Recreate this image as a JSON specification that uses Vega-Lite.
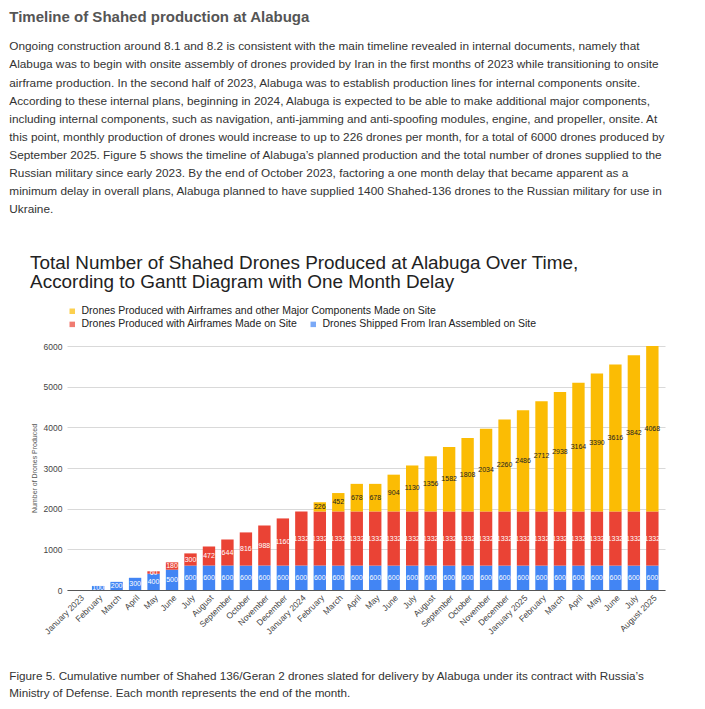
{
  "$schema": "https://vega.github.io/schema/vega-lite/v6.json",
  "background": "white",
  "padding": {"left": 9, "top": 10, "right": 5, "bottom": 0},
  "config": {
    "font": "Liberation Sans",
    "view": {"stroke": null},
    "legend": {"layout": {"top": {"anchor": "start", "direction": "vertical", "margin": 2}}}
  },
  "title": {
    "text": "Timeline of Shahed production at Alabuga",
    "subtitle": [
      "Ongoing construction around 8.1 and 8.2 is consistent with the main timeline revealed in internal documents, namely that",
      "Alabuga was to begin with onsite assembly of drones provided by Iran in the first months of 2023 while transitioning to onsite",
      "airframe production. In the second half of 2023, Alabuga was to establish production lines for internal components onsite.",
      "According to these internal plans, beginning in 2024, Alabuga is expected to be able to make additional major components,",
      "including internal components, such as navigation, anti-jamming and anti-spoofing modules, engine, and propeller, onsite. At",
      "this point, monthly production of drones would increase to up to 226 drones per month, for a total of 6000 drones produced by",
      "September 2025. Figure 5 shows the timeline of Alabuga’s planned production and the total number of drones supplied to the",
      "Russian military since early 2023. By the end of October 2023, factoring a one month delay that became apparent as a",
      "minimum delay in overall plans, Alabuga planned to have supplied 1400 Shahed-136 drones to the Russian military for use in",
      "Ukraine."
    ],
    "anchor": "start",
    "frame": "bounds",
    "font": "Liberation Sans",
    "fontSize": 15,
    "fontWeight": "bold",
    "color": "#555555",
    "subtitleFont": "Liberation Sans",
    "subtitleFontSize": 11.8,
    "subtitleColor": "#333333",
    "subtitleLineHeight": 18.1,
    "subtitlePadding": 16,
    "offset": 38
  },
  "datasets": {
    "months": [
      {"month": "2023-01-15", "iran": 0, "airframe": 0, "major": 0},
      {"month": "2023-02-15", "iran": 100, "airframe": 0, "major": 0},
      {"month": "2023-03-15", "iran": 200, "airframe": 0, "major": 0},
      {"month": "2023-04-15", "iran": 300, "airframe": 0, "major": 0},
      {"month": "2023-05-15", "iran": 400, "airframe": 60, "major": 0},
      {"month": "2023-06-15", "iran": 500, "airframe": 180, "major": 0},
      {"month": "2023-07-15", "iran": 600, "airframe": 300, "major": 0},
      {"month": "2023-08-15", "iran": 600, "airframe": 472, "major": 0},
      {"month": "2023-09-15", "iran": 600, "airframe": 644, "major": 0},
      {"month": "2023-10-15", "iran": 600, "airframe": 816, "major": 0},
      {"month": "2023-11-15", "iran": 600, "airframe": 988, "major": 0},
      {"month": "2023-12-15", "iran": 600, "airframe": 1160, "major": 0},
      {"month": "2024-01-15", "iran": 600, "airframe": 1332, "major": 0},
      {"month": "2024-02-15", "iran": 600, "airframe": 1332, "major": 226},
      {"month": "2024-03-15", "iran": 600, "airframe": 1332, "major": 452},
      {"month": "2024-04-15", "iran": 600, "airframe": 1332, "major": 678},
      {"month": "2024-05-15", "iran": 600, "airframe": 1332, "major": 678},
      {"month": "2024-06-15", "iran": 600, "airframe": 1332, "major": 904},
      {"month": "2024-07-15", "iran": 600, "airframe": 1332, "major": 1130},
      {"month": "2024-08-15", "iran": 600, "airframe": 1332, "major": 1356},
      {"month": "2024-09-15", "iran": 600, "airframe": 1332, "major": 1582},
      {"month": "2024-10-15", "iran": 600, "airframe": 1332, "major": 1808},
      {"month": "2024-11-15", "iran": 600, "airframe": 1332, "major": 2034},
      {"month": "2024-12-15", "iran": 600, "airframe": 1332, "major": 2260},
      {"month": "2025-01-15", "iran": 600, "airframe": 1332, "major": 2486},
      {"month": "2025-02-15", "iran": 600, "airframe": 1332, "major": 2712},
      {"month": "2025-03-15", "iran": 600, "airframe": 1332, "major": 2938},
      {"month": "2025-04-15", "iran": 600, "airframe": 1332, "major": 3164},
      {"month": "2025-05-15", "iran": 600, "airframe": 1332, "major": 3390},
      {"month": "2025-06-15", "iran": 600, "airframe": 1332, "major": 3616},
      {"month": "2025-07-15", "iran": 600, "airframe": 1332, "major": 3842},
      {"month": "2025-08-15", "iran": 600, "airframe": 1332, "major": 4068}
    ]
  },
  "spacing": 34,
  "vconcat": [
    {
      "width": 598,
      "height": 244,
      "title": {
        "text": ["Total Number of Shahed Drones Produced at Alabuga Over Time,", "According to Gantt Diagram with One Month Delay"],
        "anchor": "start",
        "frame": "bounds",
        "fontSize": 18.9,
        "fontWeight": "normal",
        "color": "#222222",
        "lineHeight": 19,
        "offset": 14
      },
      "data": {"name": "months"},
      "transform": [
        {"fold": ["iran", "airframe", "major"], "as": ["key", "value"]},
        {"calculate": "indexof(['iran','airframe','major'], datum.key)", "as": "rank"},
        {"stack": "value", "groupby": ["month"], "sort": [{"field": "rank", "order": "ascending"}], "as": ["v0", "v1"]},
        {"calculate": "(datum.v0 + datum.v1) / 2", "as": "mid"}
      ],
      "encoding": {
        "x": {
          "field": "month",
          "type": "ordinal",
          "timeUnit": "yearmonth",
          "scale": {"paddingInner": 0.33, "paddingOuter": 0.35},
          "axis": {
            "title": null,
            "labelAngle": -45,
            "labelOverlap": false,
            "labelFontSize": 8.5,
            "labelColor": "#444444",
            "ticks": false,
            "domainColor": "#555555",
            "labelPadding": 3,
            "labelExpr": "month(datum.value) == 0 || (year(datum.value) == 2025 && month(datum.value) == 7) ? timeFormat(datum.value, '%B %Y') : timeFormat(datum.value, '%B')"
          }
        }
      },
      "layer": [
        {
          "mark": {"type": "bar"},
          "encoding": {
            "y": {
              "field": "v0",
              "type": "quantitative",
              "scale": {"domain": [0, 6000]},
              "axis": {
                "values": [0, 500, 1000, 1500, 2000, 2500, 3000, 3500, 4000, 4500, 5000, 5500, 6000],
                "format": "d",
                "labelExpr": "datum.value % 1000 == 0 ? datum.label : ''",
                "gridColor": {"condition": {"test": "datum.value % 1000 == 0", "value": "#d9d9d9"}, "value": "#eeeeee"},
                "domain": false,
                "ticks": false,
                "labelFontSize": 8.5,
                "labelColor": "#444444",
                "labelPadding": 5,
                "title": "Number of Drones Produced",
                "titleFontSize": 7,
                "titleFontWeight": "normal",
                "titleColor": "#555555",
                "titlePadding": 6
              }
            },
            "y2": {"field": "v1"},
            "color": {
              "field": "key",
              "type": "nominal",
              "scale": {"domain": ["iran", "airframe", "major"], "range": ["#4285F4", "#EA4335", "#FBBC04"]},
              "legend": null
            }
          }
        },
        {
          "transform": [{"filter": "datum.value > 0"}],
          "mark": {"type": "text", "fontSize": 7, "baseline": "middle", "align": "center"},
          "encoding": {
            "y": {"field": "mid", "type": "quantitative"},
            "text": {"field": "value", "type": "quantitative", "format": "d"},
            "color": {"condition": {"test": "datum.key == 'major'", "value": "#222222"}, "value": "white"}
          }
        },
        {
          "transform": [{"filter": "false"}],
          "mark": {"type": "square", "filled": true},
          "encoding": {
            "color": {
              "field": "key",
              "type": "nominal",
              "scale": {"domain": ["Drones Produced with Airframes and other Major Components Made on Site"], "range": ["#FBBC04"]},
              "legend": {"orient": "top", "title": null, "direction": "horizontal", "symbolType": "square", "symbolSize": 30, "labelFontSize": 10.5, "labelColor": "#222222", "padding": 0, "offset": 16, "labelLimit": 500}
            }
          }
        },
        {
          "transform": [{"filter": "false"}],
          "mark": {"type": "square", "filled": true},
          "encoding": {
            "color": {
              "field": "key",
              "type": "nominal",
              "scale": {"domain": ["Drones Produced with Airframes Made on Site", "Drones Shipped From Iran Assembled on Site"], "range": ["#EA4335", "#4285F4"]},
              "legend": {"orient": "top", "title": null, "direction": "horizontal", "symbolType": "square", "symbolSize": 30, "labelFontSize": 10.5, "labelColor": "#222222", "padding": 0, "offset": 16, "columnPadding": 10, "labelLimit": 500}
            }
          }
        }
      ],
      "resolve": {"scale": {"color": "independent"}, "legend": {"color": "independent"}}
    },
    {
      "width": 598,
      "height": 1,
      "data": {"values": [{}]},
      "mark": {"type": "text"},
      "encoding": {},
      "title": {
        "text": ["Figure 5. Cumulative number of Shahed 136/Geran 2 drones slated for delivery by Alabuga under its contract with Russia’s", "Ministry of Defense. Each month represents the end of the month."],
        "anchor": "start",
        "frame": "bounds",
        "dx": -57.7,
        "fontSize": 11.7,
        "fontWeight": "normal",
        "color": "#333333",
        "lineHeight": 17,
        "offset": 0
      }
    }
  ]
}
